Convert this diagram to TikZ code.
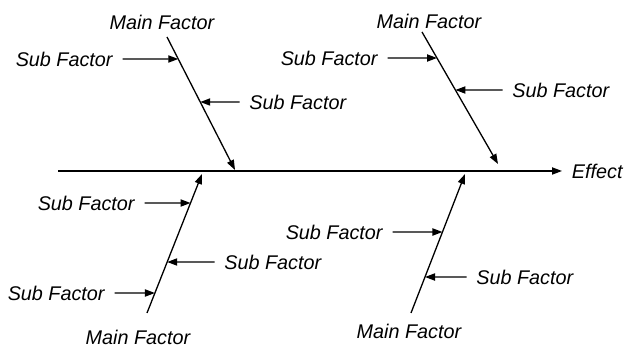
\documentclass[tikz,border=0pt]{standalone}
\usepackage{fontspec}
\setmainfont{Liberation Sans}
\usetikzlibrary{arrows.meta,calc}

\begin{document}
\begin{tikzpicture}[x=0.5pt,y=-0.5pt,
  lbl/.style={font=\fontsize{9.9}{12}\selectfont\itshape, inner xsep=4.75pt, inner ysep=1pt},
  bone/.style={line width=0.65pt, -{Triangle[length=5pt,width=3.6pt]}},
  sub/.style={line width=0.65pt, -{Triangle[length=5pt,width=3.6pt]}}]
\useasboundingbox (0,0) rectangle (627,346);
% Spine
\coordinate (tail) at (58,171);
\node[lbl, anchor=west] (effect) at (562,171) {Effect};
\draw[bone] (tail) -- (effect.west);
% Main bones with their labels
\foreach \n/\sx/\sy/\ex/\ey/\lx/\ly in {tl/167/37/235/170/162/22, tr/422/32/498/164/429/21, bl/147/313/202/174/138/337, br/411/313/465/174/409/331} {
  \coordinate (\n a) at (\sx,\sy);
  \coordinate (\n b) at (\ex,\ey);
  \node[lbl] (\n main) at (\lx,\ly) {Main Factor};
  \draw[bone] (\n a) -- (\n b);
}
% Sub factors on the left of a bone
\foreach \n/\b/\x/\y in {tlone/tl/122.5/59, trone/tr/387.5/58, blone/bl/144.5/203, blthree/bl/114.5/293, brone/br/392.5/232} {
  \node[lbl, anchor=east] (\n) at (\x,\y) {Sub Factor};
  \draw[sub] (\n.east) -- (intersection of {\b a}--{\b b} and {\n.east}--{\n.west});
}
% Sub factors on the right of a bone
\foreach \n/\b/\x/\y in {tltwo/tl/239.5/102, trtwo/tr/502.5/90, bltwo/bl/214.5/262, brtwo/br/466.5/277} {
  \node[lbl, anchor=west] (\n) at (\x,\y) {Sub Factor};
  \draw[sub] (\n.west) -- (intersection of {\b a}--{\b b} and {\n.west}--{\n.east});
}
\end{tikzpicture}
\end{document}
